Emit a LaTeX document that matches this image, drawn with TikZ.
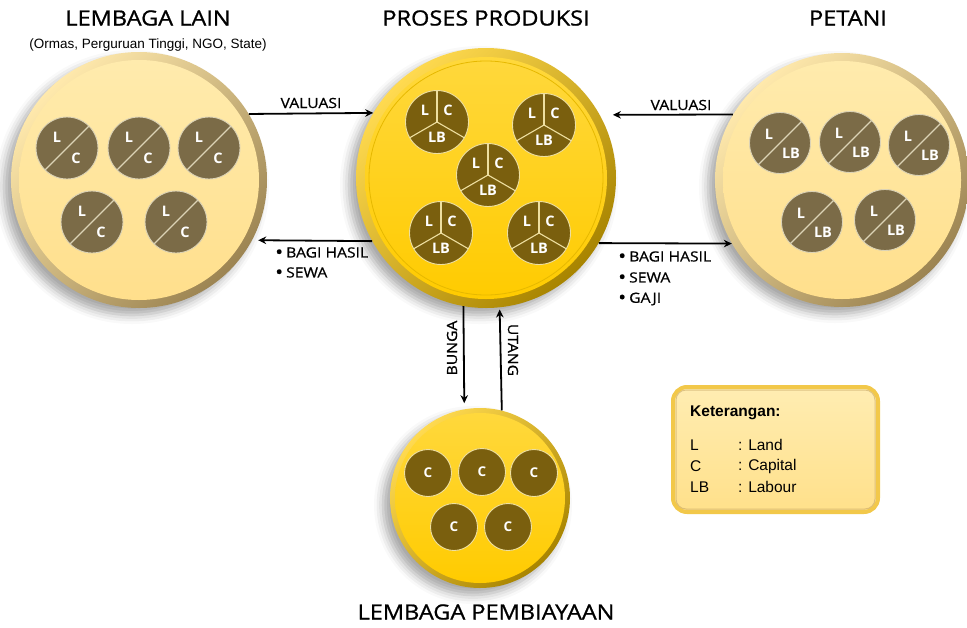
\documentclass[tikz,border=0pt]{standalone}
\usepackage{fontspec}
\setmainfont{Liberation Sans}
\newfontfamily\tfont[FakeStretch=1.12,FakeBold=1.0]{Open Sans}
\newfontfamily\lfont[FakeStretch=1.12,FakeBold=0.7]{Open Sans}
\newfontfamily\osn{Open Sans}
\usetikzlibrary{shadows.blur,arrows.meta,calc}
\definecolor{rimLa}{HTML}{FFE9AC}
\definecolor{rimLb}{HTML}{9C8452}
\definecolor{fillLa}{HTML}{FFEBAD}
\definecolor{fillLb}{HTML}{FFDF8C}
\definecolor{dotL}{HTML}{7B6B47}
\definecolor{dotLline}{HTML}{DCD3B6}
\definecolor{rimGa}{HTML}{FFDA50}
\definecolor{rimGb}{HTML}{A88400}
\definecolor{fillGa}{HTML}{FFD83C}
\definecolor{fillGb}{HTML}{FFCB00}
\definecolor{ringG}{HTML}{E6B800}
\definecolor{dotG}{HTML}{7A5F0E}
\definecolor{dotGline}{HTML}{EEDFA0}
\definecolor{ketrim}{HTML}{F2C84A}
\definecolor{ketA}{HTML}{FFEDB2}
\definecolor{ketB}{HTML}{FFE08A}
\definecolor{ketin}{HTML}{C9A865}
\newcommand\bul{\raisebox{-1.2pt}{\fontsize{19}{19}\selectfont\textbullet}\hspace{3pt}}
\tikzset{
  shadowed/.style={blur shadow={shadow xshift=-7pt, shadow yshift=-7pt, shadow blur radius=9pt, shadow opacity=35}},
  bigpale/.style={circle, inner sep=0pt, top color=rimLa, bottom color=rimLb, shading angle=45, shadowed},
  biggold/.style={circle, inner sep=0pt, top color=rimGa, bottom color=rimGb, shading angle=45, shadowed},
  dlet/.style={text=white, font=\osn\bfseries\fontsize{14.5}{14.5}\selectfont, inner sep=0pt},
  dotLC/.style={circle, inner sep=0pt, minimum size=62pt, fill=dotL, draw=dotLline, line width=0.9pt,
    path picture={
      \draw[dotLline, line width=1.2pt] (path picture bounding box.south west) -- (path picture bounding box.north east);
      \node[dlet] at ([shift={(-10pt,11pt)}]path picture bounding box.center) {L};
      \node[dlet] at ([shift={(9pt,-10pt)}]path picture bounding box.center) {C};}},
  dotLLB/.style={circle, inner sep=0pt, minimum size=61pt, fill=dotL, draw=dotLline, line width=0.9pt,
    path picture={
      \draw[dotLline, line width=1.2pt] (path picture bounding box.south west) -- (path picture bounding box.north east);
      \node[dlet] at ([shift={(-11pt,9pt)}]path picture bounding box.center) {L};
      \node[dlet] at ([shift={(11pt,-10pt)}]path picture bounding box.center) {LB};}},
  dotLCLB/.style={circle, inner sep=0pt, minimum size=63pt, fill=dotG, draw=dotGline, line width=0.9pt,
    path picture={
      \draw[dotGline, line width=1.1pt] (path picture bounding box.center) -- +(90:34pt);
      \draw[dotGline, line width=1.1pt] (path picture bounding box.center) -- +(210:34pt);
      \draw[dotGline, line width=1.1pt] (path picture bounding box.center) -- +(330:34pt);
      \node[dlet] at ([shift={(-12pt,12pt)}]path picture bounding box.center) {L};
      \node[dlet] at ([shift={(11pt,12pt)}]path picture bounding box.center) {C};
      \node[dlet] at ([shift={(0pt,-15pt)}]path picture bounding box.center) {LB};}},
  dotC/.style={circle, inner sep=0pt, minimum size=47pt, fill=dotG, draw=dotGline, line width=0.9pt,
    font=\osn\bfseries\fontsize{13.5}{13.5}\selectfont, text=white},
  arr/.style={-{Stealth[length=8pt,width=7.5pt]}, line width=1.8pt, black},
  title/.style={font=\tfont\fontsize{21}{23}\selectfont, inner sep=0pt},
  lbl/.style={font=\lfont\fontsize{14}{16}\selectfont, inner sep=0pt},
  ketbox/.style={rounded corners=14pt, minimum width=205pt, minimum height=125pt, draw=ketrim, line width=4pt, top color=ketA, bottom color=ketB},
  kettxt/.style={font=\fontsize{15.5}{17}\selectfont, inner sep=0pt, anchor=west},
}
\begin{document}
\begin{tikzpicture}[x=1pt,y=-1pt]
\useasboundingbox (0,0) rectangle (967,627);

% big circles
\node[bigpale, minimum size=256pt] (lain) at (139,180) {};
\shade[top color=fillLa, bottom color=fillLb] (lain.center) circle[radius=120pt];
\node[biggold, minimum size=260pt] (proses) at (486,178) {};
\shade[top color=fillGa, bottom color=fillGb] (proses.center) circle[radius=121pt];
\draw[ringG, line width=0.8pt] (proses.center) circle[radius=117pt];
\node[bigpale, minimum size=254pt] (petani) at (842,180) {};
\shade[top color=fillLa, bottom color=fillLb] (petani.center) circle[radius=119pt];
\node[biggold, minimum size=180pt] (biaya) at (480,498) {};
\shade[top color=fillGa, bottom color=fillGb] (biaya.center) circle[radius=85pt];

% small circles left
\node[dotLC] (l1) at (67,148) {};
\node[dotLC] (l2) at (139,148) {};
\node[dotLC] (l3) at (209,148) {};
\node[dotLC] (l4) at (92,222) {};
\node[dotLC] (l5) at (176,222) {};
% center
\node[dotLCLB] (p1) at (437,122) {};
\node[dotLCLB] (p2) at (544,125) {};
\node[dotLCLB] (p3) at (488,175) {};
\node[dotLCLB] (p4) at (441,233) {};
\node[dotLCLB] (p5) at (539,233) {};
% right
\node[dotLLB] (r1) at (780,143) {};
\node[dotLLB] (r2) at (850,142) {};
\node[dotLLB] (r3) at (919,145) {};
\node[dotLLB] (r4) at (812,222) {};
\node[dotLLB] (r5) at (885,220) {};
% bottom
\node[dotC] (b1) at (428,473) {C};
\node[dotC] (b2) at (482,472) {C};
\node[dotC] (b3) at (534,473) {C};
\node[dotC] (b4) at (454,527) {C};
\node[dotC] (b5) at (508,527) {C};

% titles
\node[title] (t1) at (148,18) {LEMBAGA LAIN};
\node[font=\fontsize{13.5}{15}\selectfont, inner sep=0pt] (t1s) at (148,45) {(Ormas, Perguruan Tinggi, NGO, State)};
\node[title] (t2) at (486,18) {PROSES PRODUKSI};
\node[title] (t3) at (848,18) {PETANI};
\node[title] (t4) at (486,612) {LEMBAGA PEMBIAYAAN};

% arrows
\draw[arr] (lain.31.6) -- (proses.150);
\draw[arr, shorten >=6pt] (proses.209) -- (lain.-28.5);
\draw[arr, shorten >=13pt] (petani.149.2) -- (proses.29);
\draw[arr] (proses.-30.5) -- (petani.210.3);
\draw[arr, shorten >=6pt] (proses.260.3) -- (biaya.100.2);
\draw[arr, shorten >=2pt] (biaya.76.5) -- (proses.276.6);

% arrow labels
\node[lbl] (v1) at (311,103) {VALUASI};
\node[lbl] (v2) at (681,105) {VALUASI};
\node[lbl, anchor=west] (lb1) at (275,253) {\bul BAGI HASIL};
\node[lbl, anchor=west] (lb2) at (275,273) {\bul SEWA};
\node[lbl, anchor=west] (rb1) at (618,257) {\bul BAGI HASIL};
\node[lbl, anchor=west] (rb2) at (618,278) {\bul SEWA};
\node[lbl, anchor=west] (rb3) at (618,299) {\bul GAJI};
\node[lbl, rotate=90] (bunga) at (452,348) {BUNGA};
\node[lbl, rotate=-90] (utang) at (513,350) {UTANG};

% legend
\node[ketbox] (ket) at (775.5,449.5) {};
\draw[ketin, line width=1pt, opacity=.6, rounded corners=10pt] ([shift={(5pt,5pt)}]ket.south west) rectangle ([shift={(-5pt,-5pt)}]ket.north east);
\node[kettxt, font=\bfseries\fontsize{15.5}{17}\selectfont] (k0) at (690,413) {Keterangan:};
\node[kettxt] (k1) at (690,445) {L};
\node[kettxt] (k2) at (690,466) {C};
\node[kettxt] (k3) at (690,487) {LB};
\node[kettxt] (k1b) at (738,445) {: Land};
\node[kettxt] (k2b) at (738,466) {: Capital};
\node[kettxt] (k3b) at (738,487) {: Labour};
\end{tikzpicture}
\end{document}
